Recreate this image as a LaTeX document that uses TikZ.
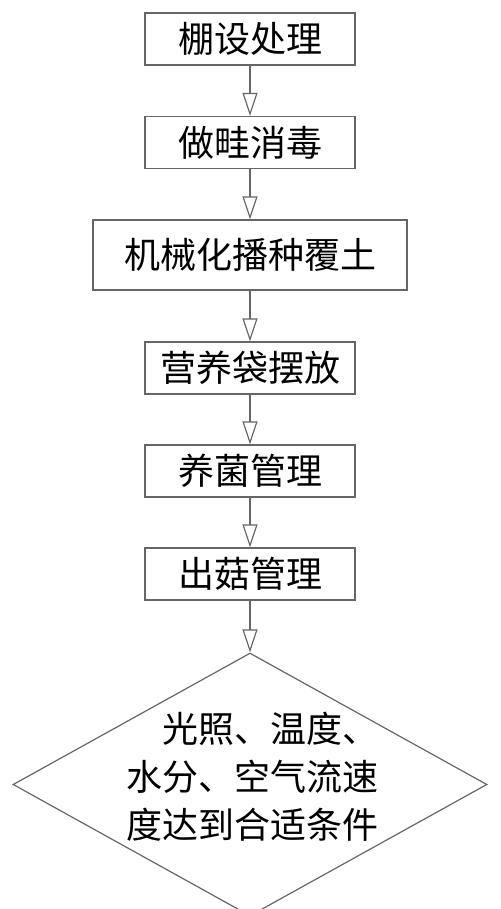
\documentclass[tikz,border=0pt]{standalone}
\usepackage{fontspec}
\setmainfont{Noto Sans CJK SC}
\usetikzlibrary{arrows.meta,shapes.geometric}

\begin{document}
\begin{tikzpicture}[x=1pt, y=-1pt, >={Triangle[open, length=23pt, width=15pt]},
    stepbox/.style={draw=black!60, line width=1.2pt, minimum width=210pt,
        minimum height=52pt, inner sep=0pt, font=\fontsize{36}{40}\selectfont},
    decision/.style={diamond, draw=black!60, line width=1.2pt,
        minimum width=474pt, minimum height=263pt, inner sep=0pt},
    link/.style={->, draw=black!60, line width=1.2pt}]

        \useasboundingbox (0,0) rectangle (500,909);

        % Nodes
        \node[stepbox] (A) at (250,39) {棚设处理};
        \node[stepbox] (B) at (250,142.5) {做畦消毒};
        \node[stepbox, minimum width=314pt, minimum height=70pt] (C) at (250,255) {机械化播种覆土};
        \node[stepbox] (D) at (250,368) {营养袋摆放};
        \node[stepbox] (E) at (250,471) {养菌管理};
        \node[stepbox] (F) at (250,574) {出菇管理};
        \node[decision] (G) at (250,784.5) {};
        \node[align=left, inner sep=0pt, font=\fontsize{36}{48}\selectfont] (Gtext) at (252,777)
            {\hspace*{1em}光照、温度、\\水分、空气流速\\度达到合适条件};

        % Arrows
        \draw[link] (A) -- (B);
        \draw[link] (B) -- (C);
        \draw[link] (C) -- (D);
        \draw[link] (D) -- (E);
        \draw[link] (E) -- (F);
        \draw[link] (F) -- (G);

    \end{tikzpicture}
\end{document}
